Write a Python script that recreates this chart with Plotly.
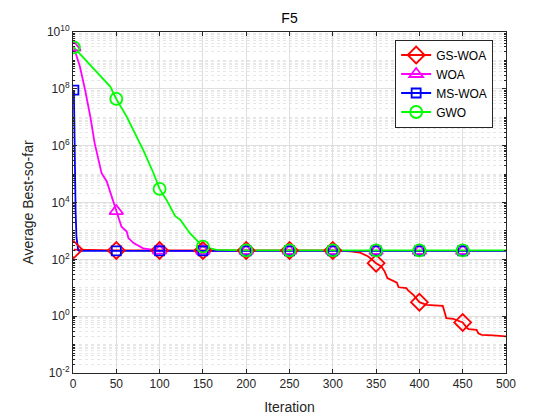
import plotly.graph_objects as go

# ---------------- data ----------------
marker_iters = [1, 50, 100, 150, 200, 250, 300, 350, 400, 450]

gs_iter = [1, 50, 100, 150, 200, 250, 300, 320, 331, 341, 350, 356, 360, 363, 370,
           374, 376, 385, 387, 393, 400, 408, 427, 428, 430, 431, 439, 450, 455,
           457, 466, 468, 472, 485, 500]
gs_vals = [220, 205, 205, 205, 205, 205, 205, 190, 174, 126, 73, 56, 37, 22, 17.5,
           15, 10.4, 9.7, 8.0, 5.6, 3.1, 2.5, 2.3, 1.66, 1.12, 0.85, 0.81, 0.6, 0.38,
           0.35, 0.33, 0.25, 0.22, 0.21, 0.195]

woa_iter = [1, 2, 8, 14, 20, 25, 33, 39, 45, 50, 56, 62, 64, 70, 81, 97, 100, 150,
            200, 250, 300, 350, 400, 450, 500]
woa_vals = [2.9e9, 2.3e9, 6.0e8, 9.1e7, 1.05e7, 1.23e6, 1.07e5, 5.5e4, 1.6e4, 5.0e3,
            1.4e3, 955, 562, 372, 245, 205, 202, 200, 200, 200, 200, 200, 200, 200, 200]

ms_iter = [1, 2, 3, 4, 5, 6, 7, 50, 100, 150, 200, 250, 300, 350, 400, 450, 500]
ms_vals = [9.0e7, 1.0e5, 5.0e3, 6.0e2, 2.8e2, 2.1e2, 200, 200, 200, 200, 200, 200,
           200, 200, 200, 200, 200]

gwo_iter = [1, 35, 43, 50, 62, 81, 93, 100, 108, 118, 124, 135, 147, 150, 166, 200,
            250, 300, 350, 400, 450, 500]
gwo_vals = [2.9e9, 2.3e8, 1.2e8, 4.4e7, 1.05e7, 7.1e5, 1.07e5, 3.0e4, 1.23e4, 3.3e3,
            2.45e3, 830, 370, 280, 215, 205, 205, 205, 205, 205, 205, 205]

series_names = ["GS-WOA", "WOA", "MS-WOA", "GWO"]
colors = ["#FF0000", "#FF00FF", "#0000FF", "#00FF00"]
symbols = ["diamond-open", "triangle-up-open", "square-open", "circle-open"]
msizes = [13, 12, 9, 12]

y_tickvals = [1e-2, 1e0, 1e2, 1e4, 1e6, 1e8, 1e10]
y_ticktext = ["10<sup>-2</sup>", "10<sup>0</sup>", "10<sup>2</sup>", "10<sup>4</sup>",
              "10<sup>6</sup>", "10<sup>8</sup>", "10<sup>10</sup>"]
x_tickvals = [0, 50, 100, 150, 200, 250, 300, 350, 400, 450, 500]

# ---------------- figure ----------------
fig = go.Figure()
data = [(gs_iter, gs_vals), (woa_iter, woa_vals), (ms_iter, ms_vals), (gwo_iter, gwo_vals)]

for (xs, ys), name, c, s, ms in zip(data, series_names, colors, symbols, msizes):
    fig.add_trace(go.Scatter(x=xs, y=ys, mode="lines", line=dict(color=c, width=1.8),
                             showlegend=False, hoverinfo="skip"))
for (xs, ys), name, c, s, ms in zip(data, series_names, colors, symbols, msizes):
    mx = [x for x in xs if x in marker_iters]
    my = [y for x, y in zip(xs, ys) if x in marker_iters]
    fig.add_trace(go.Scatter(x=mx, y=my, mode="markers",
                             marker=dict(symbol=s, size=ms, color=c, line=dict(width=1.8, color=c)),
                             showlegend=False))
for name, c, s, ms in zip(series_names, colors, symbols, msizes):
    fig.add_trace(go.Scatter(x=[None], y=[None], mode="lines+markers", name=name,
                             line=dict(color=c, width=1.8),
                             marker=dict(symbol=s, size=ms, color=c, line=dict(width=1.8, color=c))))

axis_color = "#262626"
grid_color = "#DFDFDF"

fig.update_layout(
    width=560, height=420,
    paper_bgcolor="white", plot_bgcolor="white",
    margin=dict(l=73, r=54, t=32, b=47, autoexpand=False),
    font=dict(family="Liberation Sans, Arial, sans-serif", size=12, color=axis_color),
    title=dict(text="F5", x=0.517, xanchor="center", y=0.957, yanchor="middle",
               font=dict(size=14, color="#000000")),
    legend=dict(x=0.744, y=0.978, xanchor="left", yanchor="top",
                bgcolor="white", bordercolor="#262626", borderwidth=1,
                font=dict(size=12, color="#000000"), tracegroupgap=0,
                itemwidth=30),
    showlegend=True,
)

fig.update_xaxes(
    range=[0, 500], tickvals=x_tickvals, ticks="inside", ticklen=4, tickcolor=axis_color,
    showline=True, linecolor=axis_color, linewidth=1, mirror="allticks",
    showgrid=True, gridcolor=grid_color, gridwidth=1, zeroline=False, automargin=False,
    title=dict(text="Iteration", font=dict(size=14, color=axis_color), standoff=11),
    tickfont=dict(size=12, color=axis_color),
)
fig.update_yaxes(
    type="log", range=[-2, 10], tickvals=y_tickvals, ticktext=y_ticktext,
    ticks="inside", ticklen=4, tickcolor=axis_color,
    showline=True, linecolor=axis_color, linewidth=1, mirror="allticks",
    showgrid=True, gridcolor=grid_color, gridwidth=1, zeroline=False, automargin=False,
    minor=dict(dtick="D1", showgrid=True, gridcolor="#E6E6E6", griddash="dot",
               ticks="inside", ticklen=2, tickcolor=axis_color),
    title=dict(text="Average Best-so-far", font=dict(size=14, color=axis_color), standoff=10),
    tickfont=dict(size=12, color=axis_color),
)

fig.write_html("out.html", config={"displayModeBar": False},
               post_script="document.body.style.margin='0';document.body.style.overflow='hidden';")
